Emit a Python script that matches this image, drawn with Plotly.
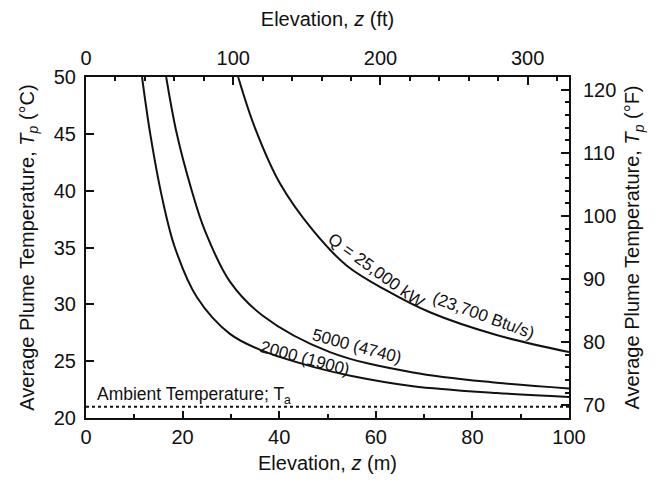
import plotly.graph_objects as go

# Elevation z (m) and average plume temperature Tp (°C)
z_2000 = [11.6, 13.3, 15.7, 18.4, 23.0, 29.8, 36.6, 47.0, 55.0, 67.7, 85.0, 100.0]
t_2000 = [50.0, 45.0, 39.5, 35.0, 30.6, 27.4, 25.9, 24.5, 23.7, 22.8, 22.2, 21.85]

z_5000 = [16.6, 18.8, 21.9, 24.6, 29.8, 36.6, 50.5, 67.7, 85.0, 100.0]
t_5000 = [50.0, 45.0, 40.0, 36.5, 32.0, 29.0, 25.8, 24.0, 23.1, 22.6]

z_25000 = [31.5, 35.0, 40.2, 47.0, 54.0, 62.3, 71.2, 85.0, 100.0]
t_25000 = [50.0, 45.5, 40.6, 36.5, 33.4, 31.2, 29.3, 27.3, 25.8]

z_ambient = [0, 100]
t_ambient = [21.0, 21.0]

x_range_m = [0, 100]
x_range_ft = [0, 328.08]
y_range_c = [20, 50]
y_range_f = [68, 122]

FONT = "Liberation Sans, Arial, Helvetica, sans-serif"
BLACK = "#111111"

fig = go.Figure()
for zs, ts in [(z_2000, t_2000), (z_5000, t_5000), (z_25000, t_25000)]:
    fig.add_trace(go.Scatter(x=zs, y=ts, mode="lines", line=dict(color=BLACK, width=2, shape="spline", smoothing=1.0),
                             showlegend=False, hoverinfo="skip"))
fig.add_trace(go.Scatter(x=z_ambient, y=t_ambient, mode="lines", line=dict(color=BLACK, width=2, dash="3px,3px"),
                         showlegend=False, hoverinfo="skip"))
# companion trace for the secondary (ft / °F) axes
fig.add_trace(go.Scatter(x=[], y=[], xaxis="x2", yaxis="y2", showlegend=False, hoverinfo="skip"))

tickfont = dict(family=FONT, size=20, color=BLACK)
titlefont = dict(family=FONT, size=20, color=BLACK)
common = dict(showline=True, linecolor=BLACK, linewidth=2, showgrid=False, zeroline=False,
              tickfont=tickfont, tickwidth=1.5, tickcolor=BLACK, automargin=False)

# page body adds an 8 px offset, so the figure is 652x474 to fill the 660x482 window
fig.update_layout(
    width=652, height=474,
    margin=dict(l=78, r=91, t=69, b=64),
    paper_bgcolor="white", plot_bgcolor="white",
    font=dict(family=FONT, color=BLACK),
    xaxis=dict(range=x_range_m, dtick=20, ticks="inside", ticklen=7,
               minor=dict(dtick=10, ticks="inside", ticklen=4, tickwidth=1.5, tickcolor=BLACK),
               ticklabelstandoff=0,
               title=dict(text="Elevation, <i>z</i> (m)", font=titlefont, standoff=9), **common),
    xaxis2=dict(range=x_range_ft, overlaying="x", side="top", anchor="y", dtick=100, ticks="inside", ticklen=8,
                minor=dict(dtick=20, ticks="inside", ticklen=4, tickwidth=1.5, tickcolor=BLACK),
                ticklabelstandoff=2,
                title=dict(text="Elevation, <i>z</i> (ft)", font=titlefont, standoff=16), **common),
    yaxis=dict(range=y_range_c, dtick=5, ticks="inside", ticklen=8,
               ticklabelstandoff=4,
               title=dict(text="Average Plume Temperature, <i>T<sub>p</sub></i> (°C)", font=titlefont, standoff=14),
               **common),
    yaxis2=dict(range=y_range_f, overlaying="y", side="right", anchor="x", dtick=10, ticks="inside", ticklen=8,
                minor=dict(dtick=2, ticks="inside", ticklen=4, tickwidth=1.5, tickcolor=BLACK),
                ticklabelstandoff=8,
                title=dict(text="Average Plume Temperature, <i>T<sub>p</sub></i> (°F)", font=titlefont, standoff=10),
                **common),
)

labfont = dict(family=FONT, size=17, color=BLACK)
annots = [
    dict(x=60.0, y=32.95, text="Q = 25,000 kW", textangle=36),
    dict(x=82.2, y=29.0, text="(23,700 Btu/s)", textangle=20),
    dict(x=56.2, y=26.3, text="5000 (4740)", textangle=15),
    dict(x=45.4, y=25.2, text="2000 (1900)", textangle=15),
]
for a in annots:
    fig.add_annotation(xref="x", yref="y", showarrow=False, font=labfont, **a)
fig.add_annotation(xref="x", yref="y", x=1.95, y=21.95, xanchor="left", showarrow=False,
                   font=dict(family=FONT, size=17.5, color=BLACK),
                   text="Ambient Temperature; T<sub>a</sub>")

fig.write_html("out.html")
